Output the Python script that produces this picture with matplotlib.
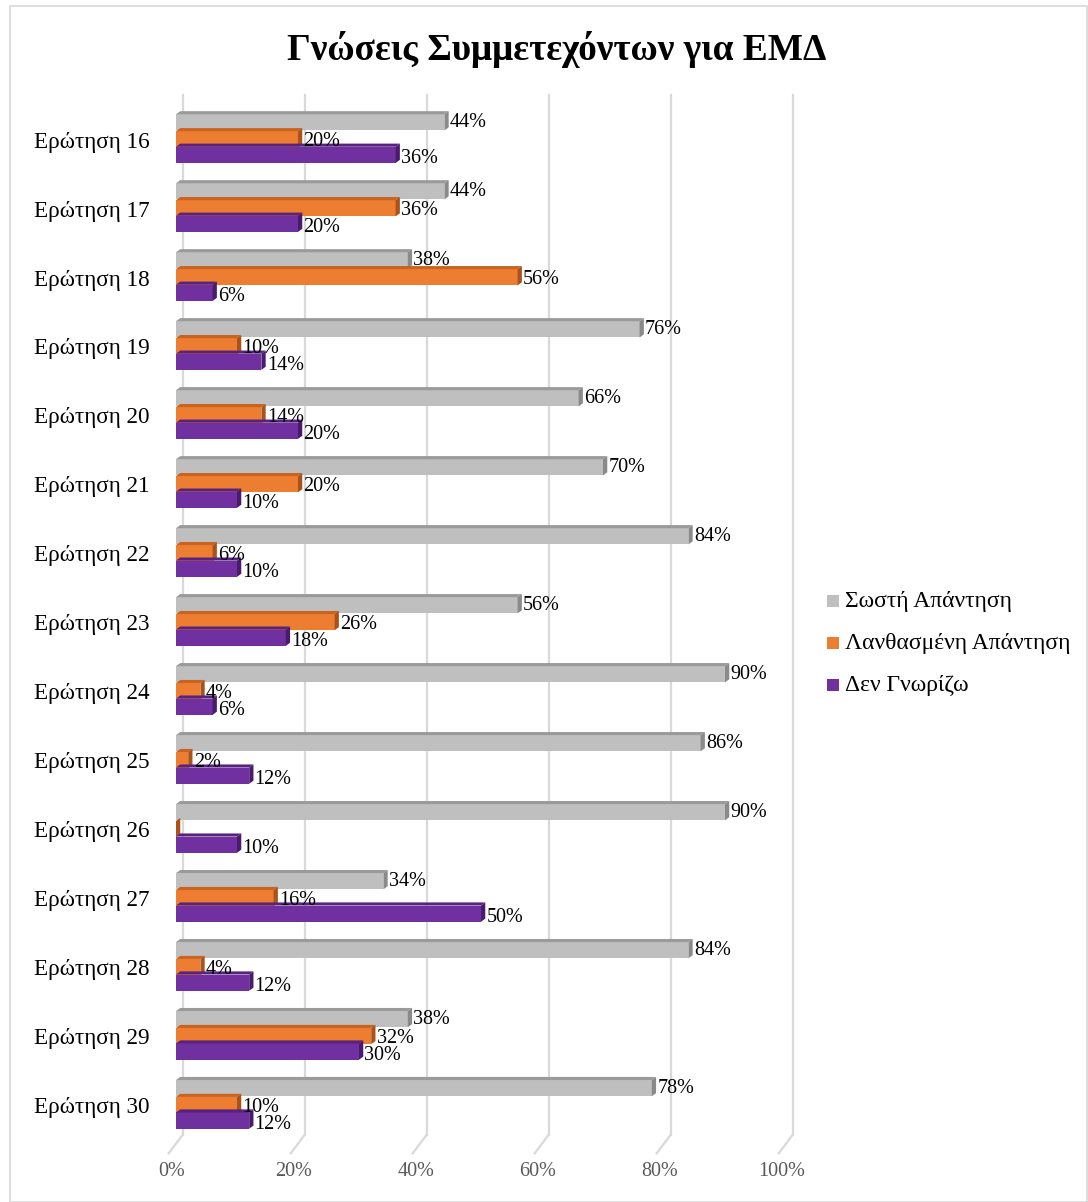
import matplotlib
matplotlib.use("Agg")
import matplotlib.pyplot as plt
from matplotlib.patches import Polygon, Rectangle

plt.rcParams['font.family'] = ['Liberation Serif', 'DejaVu Serif']

title = "Γνώσεις Συμμετεχόντων για ΕΜΔ"
questions = [f"Ερώτηση {n}" for n in range(16, 31)]
series_names = ["Σωστή Απάντηση", "Λανθασμένη Απάντηση", "Δεν Γνωρίζω"]
correct = [44, 44, 38, 76, 66, 70, 84, 56, 90, 86, 90, 34, 84, 38, 78]
wrong = [20, 36, 56, 10, 14, 20, 6, 26, 4, 2, 0, 16, 4, 32, 10]
dont_know = [36, 20, 6, 14, 20, 10, 10, 18, 6, 12, 10, 50, 12, 30, 12]
x_ticks = [0, 20, 40, 60, 80, 100]
x_tick_labels = ["0%", "20%", "40%", "60%", "80%", "100%"]

front = ["#BFBFBF", "#ED7D31", "#7030A0"]
top_face = ["#9A9A9A", "#C8641F", "#58237F"]
side_face = ["#8A8A8A", "#A9521A", "#4A1B6C"]
offsets = [0.245, 0.0, -0.225]
label_dy = [0.0, -0.03, -0.06]
bar_h = 0.235
dx, dy = 0.7, 0.045

W, H = 1088, 1202
fig = plt.figure(figsize=(W / 100, H / 100), dpi=100)
fig.patch.set_facecolor("white")

# chart frame
fig.add_artist(Rectangle((10 / W, 0.0), (W - 11) / W, (H - 6) / H,
                         transform=fig.transFigure, fill=False,
                         edgecolor="#D9D9D9", linewidth=1.2))

ax = fig.add_axes([176 / W, 1 - 1143 / H, (786 - 176) / W, (1143 - 91) / H])
ax.set_xlim(0, 100)
ax.set_ylim(-0.55, 14.7)
ax.axis("off")

# back-wall gridlines with a short slanted floor segment
y_top, y_floor, y_front = 14.64, -0.43, -0.70
for t in x_ticks:
    gx = t + 1.1
    ax.plot([gx, gx], [y_floor, y_top], color="#D9D9D9", lw=1.6, zorder=0,
            clip_on=False)
    ax.plot([gx, gx - 2.3], [y_floor, y_front], color="#D9D9D9", lw=1.6,
            zorder=0, clip_on=False)

n = len(questions)
for i in range(n):
    yc = n - 1 - i
    vals = [correct[i], wrong[i], dont_know[i]]
    for s, v in enumerate(vals):
        y0 = yc + offsets[s] - bar_h / 2
        y1 = y0 + bar_h
        z = 2 + s
        ax.add_patch(Rectangle((0, y0), v, bar_h, facecolor=front[s],
                               edgecolor="none", zorder=z))
        ax.add_patch(Polygon([(0, y1), (v, y1), (v + dx, y1 + dy), (dx, y1 + dy)],
                             closed=True, facecolor=top_face[s],
                             edgecolor="none", zorder=z))
        ax.add_patch(Polygon([(v, y0), (v, y1), (v + dx, y1 + dy), (v + dx, y0 + dy)],
                             closed=True, facecolor=side_face[s],
                             edgecolor="none", zorder=z))
        if v > 0:
            ax.text(v + dx + 0.2, yc + offsets[s] + label_dy[s], f"{v}%",
                    fontsize=14.5, color="black", va="center", ha="left", zorder=10)
    ax.text(-4.3, yc - 0.04, questions[i], fontsize=16.7, ha="right", va="center",
            color="black")

for t, lab in zip(x_ticks, x_tick_labels):
    ax.text(t - 0.7, -0.97, lab, fontsize=14.5, ha="center", va="center",
            color="#595959")

fig.text(557 / W, 1 - 50 / H, title, fontsize=26.8, fontweight="bold",
         ha="center", va="center")

# legend
for k, name in enumerate(series_names):
    ly = 1 - (601 + 42 * k) / H
    fig.add_artist(Rectangle((827 / W, ly - 6 / H), 12 / W, 12 / H,
                             transform=fig.transFigure, facecolor=front[k],
                             edgecolor="none"))
    fig.text(845 / W, ly, name, fontsize=17, ha="left", va="center")

fig.savefig("out.png", dpi=100, facecolor="white")
